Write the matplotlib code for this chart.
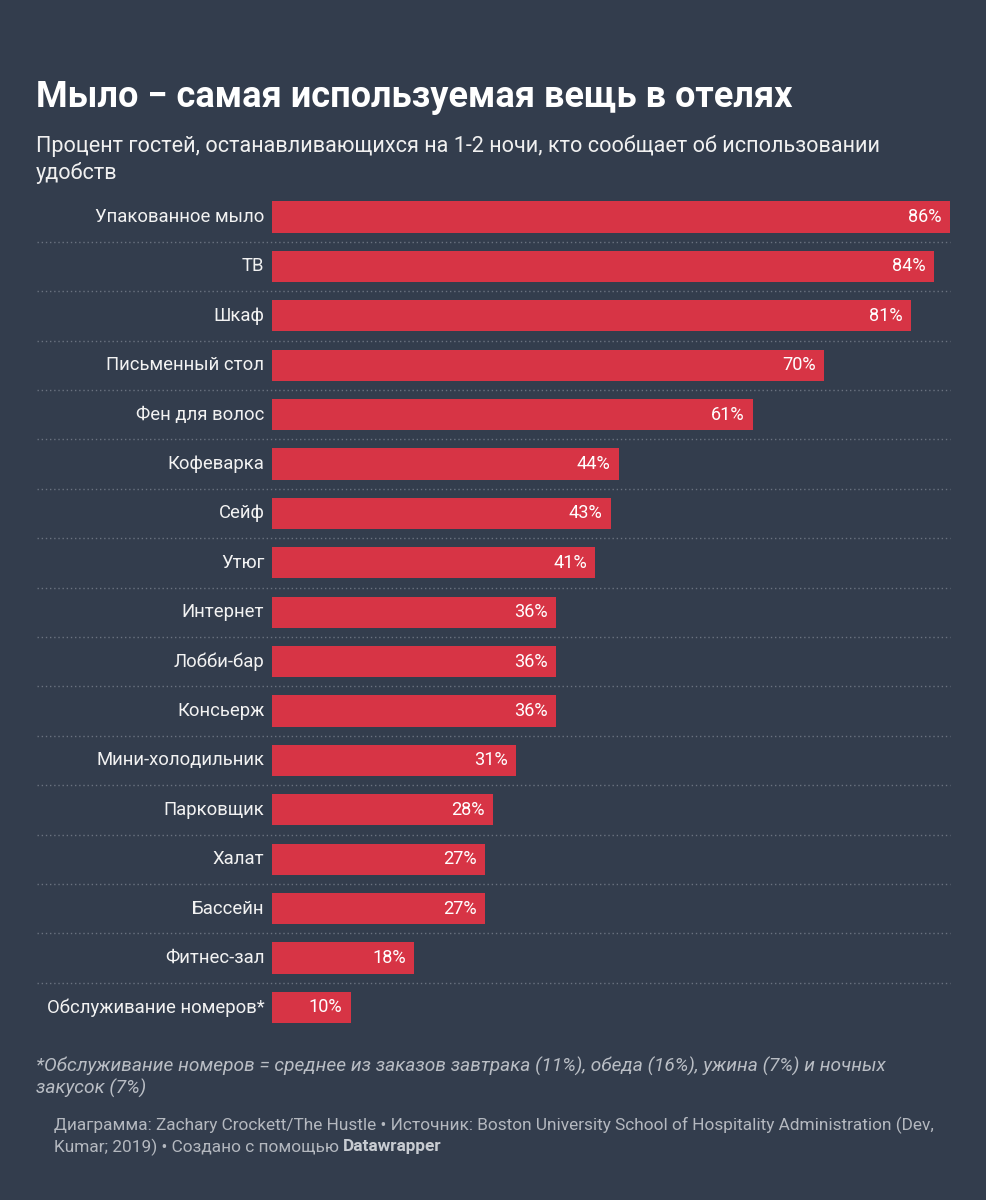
import matplotlib
matplotlib.use("Agg")
import matplotlib.pyplot as plt
from matplotlib.transforms import blended_transform_factory

categories = ["Упакованное мыло", "ТВ", "Шкаф", "Письменный стол", "Фен для волос",
              "Кофеварка", "Сейф", "Утюг", "Интернет", "Лобби-бар", "Консьерж",
              "Мини-холодильник", "Парковщик", "Халат", "Бассейн", "Фитнес-зал",
              "Обслуживание номеров*"]
values = [86, 84, 81, 70, 61, 44, 43, 41, 36, 36, 36, 31, 28, 27, 27, 18, 10]

title = "Мыло − самая используемая вещь в отелях"
subtitle = "Процент гостей, останавливающихся на 1-2 ночи, кто сообщает об использовании\nудобств"
footnote = "*Обслуживание номеров = среднее из заказов завтрака (11%), обеда (16%), ужина (7%) и ночных\nзакусок (7%)"

BG = "#333d4d"
BAR = "#d73445"
W, H = 987, 1200

plt.rcParams['font.family'] = ['Roboto', 'DejaVu Sans']
fig = plt.figure(figsize=(W / 100, H / 100), dpi=100, facecolor=BG)

n = len(categories)
pitch = 49.4
top_c = 217
ax_top = top_c - pitch / 2
ax_bot = top_c + pitch * (n - 1) + pitch / 2
x0, x1 = 272, 950
ax = fig.add_axes([x0 / W, 1 - ax_bot / H, (x1 - x0) / W, (ax_bot - ax_top) / H])
ax.set_facecolor(BG)
ax.set_xlim(0, max(values))
ax.set_ylim(n - 0.5, -0.5)
ax.axis("off")

ys = list(range(n))
ax.barh(ys, values, height=0.63, color=BAR, edgecolor="none")

for y, v, c in zip(ys, values, categories):
    ax.annotate(f"{v}%", (v, y), xytext=(-6, 0), textcoords="offset points",
                ha="right", va="center", color="white", fontsize=13.1)
    ax.annotate(c, (0, y), xytext=(-5.5, 0), textcoords="offset points",
                ha="right", va="center", color="#f2f2f2", fontsize=13.3)

tr = blended_transform_factory(fig.transFigure, ax.transData)
for i in range(n - 1):
    ax.plot([37 / W, 950 / W], [i + 0.5, i + 0.5], transform=tr, clip_on=False,
            color="#6a7280", lw=1.0, linestyle=(0, (1, 2)))

fig.text(36 / W, 1 - 97 / H, title, color="white", fontsize=26, fontweight="bold",
         ha="left", va="center")
fig.text(36 / W, 1 - 146 / H, subtitle.split("\n")[0], color="#f0f0f0", fontsize=15.6,
         ha="left", va="center")
fig.text(36 / W, 1 - 173 / H, subtitle.split("\n")[1], color="#f0f0f0", fontsize=15.6,
         ha="left", va="center")
fn = footnote.split("\n")
fig.text(36 / W, 1 - 1066 / H, fn[0], color="#b9bdc4", fontsize=13.8,
         style="italic", ha="left", va="center")
fig.text(36 / W, 1 - 1088 / H, fn[1], color="#b9bdc4", fontsize=13.8,
         style="italic", ha="left", va="center")

fig.text(54 / W, 1 - 1125 / H,
         "Диаграмма: Zachary Crockett/The Hustle • Источник: Boston University School of Hospitality Administration (Dev,",
         color="#b4b8bf", fontsize=12.4, ha="left", va="center")
t1 = fig.text(54 / W, 1 - 1147 / H, "Kumar; 2019) • Создано с помощью ",
              color="#b4b8bf", fontsize=12.4, ha="left", va="center")
fig.canvas.draw()
bb = t1.get_window_extent()
fig.text(bb.x1 / W, 1 - 1147 / H, "Datawrapper", color="#c8ccd2", fontsize=12.4,
         fontweight="bold", ha="left", va="center")

fig.savefig("out.png", dpi=100, facecolor=BG)
